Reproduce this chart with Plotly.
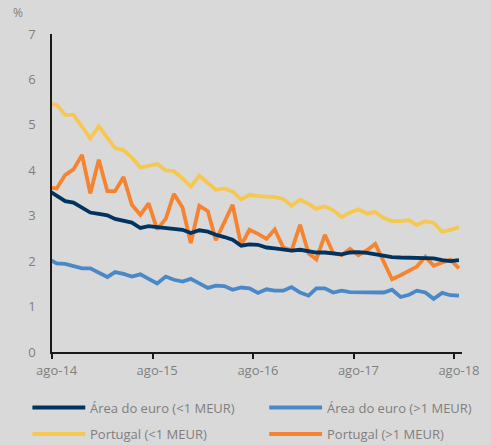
import pandas as pd
import plotly.graph_objects as go

# monthly observations, jul-14 .. ago-18 (first value only partly visible at the axis)
months = pd.date_range("2014-07-01", "2018-08-01", freq="MS")

euro_small = [3.56, 3.45, 3.32, 3.29, 3.18, 3.07, 3.04, 3.01, 2.93, 2.89, 2.85, 2.73, 2.77, 2.75,
              2.73, 2.73, 2.69, 2.62, 2.68, 2.65, 2.58, 2.53, 2.47, 2.34, 2.37, 2.36, 2.30,
              2.28, 2.26, 2.23, 2.25, 2.21, 2.19, 2.19, 2.17, 2.15, 2.19, 2.20, 2.18, 2.15,
              2.12, 2.09, 2.08, 2.08, 2.08, 2.07, 2.06, 2.02, 2.00, 2.02]
euro_large = [2.05, 1.95, 1.94, 1.88, 1.84, 1.84, 1.75, 1.65, 1.76, 1.72, 1.66, 1.71, 1.61, 1.51,
              1.66, 1.59, 1.55, 1.61, 1.51, 1.41, 1.46, 1.45, 1.37, 1.42, 1.40, 1.30, 1.38,
              1.35, 1.35, 1.43, 1.31, 1.24, 1.40, 1.40, 1.31, 1.35, 1.32, 1.32, 1.30, 1.31,
              1.31, 1.37, 1.21, 1.26, 1.35, 1.31, 1.17, 1.30, 1.25, 1.24]
pt_small = [5.47, 5.44, 5.22, 5.22, 4.96, 4.70, 4.97, 4.70, 4.49, 4.44, 4.28, 4.06, 4.09, 4.14,
            4.00, 3.98, 3.82, 3.64, 3.88, 3.72, 3.57, 3.60, 3.53, 3.36, 3.46, 3.43, 3.42,
            3.41, 3.37, 3.22, 3.35, 3.26, 3.15, 3.21, 3.12, 2.97, 3.07, 3.14, 3.05, 3.08,
            2.95, 2.88, 2.88, 2.90, 2.80, 2.88, 2.84, 2.65, 2.69, 2.75]
pt_large = [3.62, 3.60, 3.90, 4.02, 4.34, 3.49, 4.23, 3.54, 3.54, 3.85, 3.24, 3.02, 3.27, 2.70,
            2.93, 3.48, 3.18, 2.40, 3.22, 3.10, 2.46, 2.84, 3.24, 2.35, 2.69, 2.60, 2.49,
            2.70, 2.30, 2.24, 2.80, 2.17, 2.04, 2.58, 2.18, 2.13, 2.27, 2.13, 2.24, 2.38,
            2.00, 1.60, 1.69, 1.80, 1.88, 2.10, 1.90, 1.97, 2.03, 1.84]

series_names = ["Área do euro (<1 MEUR)", "Área do euro (>1 MEUR)",
                "Portugal (<1 MEUR)", "Portugal (>1 MEUR)"]
series_values = [euro_small, euro_large, pt_small, pt_large]
series_colors = ["#00335F", "#4A88C7", "#F6C851", "#F5832F"]

tick_dates = ["2014-08-01", "2015-08-01", "2016-08-01", "2017-08-01", "2018-08-01"]
tick_labels = ["ago-14", "ago-15", "ago-16", "ago-17", "ago-18"]
y_ticks = [0, 1, 2, 3, 4, 5, 6, 7]

# points are drawn mid-month
x_dates = months + pd.Timedelta(days=17)
label_dates = pd.to_datetime(tick_dates) + pd.Timedelta(days=17)

W, H = 491, 445
L, R, T, B = 52, 20, 34, 93
PW, PH = W - L - R, H - T - B
GRAY = "#7F7F7F"
FONT = "Open Sans"

def px(x):
    return (x - L) / PW

def py(y):
    return (H - B - y) / PH

fig = go.Figure()
for i in [2, 3, 1, 0]:
    fig.add_trace(go.Scatter(x=x_dates, y=series_values[i], mode="lines",
                             name=series_names[i],
                             line=dict(color=series_colors[i], width=3.8),
                             showlegend=False))

# manual legend (two columns)
leg_pos = [(32, 407.5), (274, 407.5), (32, 434), (274, 434)]
shapes = []
annotations = []
for (lx, ly), name, col in zip(leg_pos, series_names, series_colors):
    shapes.append(dict(type="line", xref="paper", yref="paper",
                       x0=px(lx), x1=px(lx + 54), y0=py(ly), y1=py(ly),
                       line=dict(color=col, width=4)))
    annotations.append(dict(xref="paper", yref="paper", x=px(lx + 57), y=py(ly),
                            text=name, showarrow=False, xanchor="left", yanchor="middle",
                            font=dict(family=FONT, size=13, color=GRAY)))
annotations.append(dict(xref="paper", yref="paper", x=px(10), y=py(13), text="%",
                        showarrow=False, xanchor="left", yanchor="middle",
                        font=dict(family=FONT, size=12, color=GRAY)))

fig.update_layout(
    width=W, height=H,
    margin=dict(l=L, r=R, t=T, b=B),
    paper_bgcolor="#D9D9D9", plot_bgcolor="#D9D9D9",
    shapes=shapes, annotations=annotations,
    font=dict(family=FONT, size=13, color=GRAY),
    xaxis=dict(type="date", range=["2014-08-01", "2018-08-29"],
               tickmode="array", tickvals=label_dates, ticktext=tick_labels,
               ticks="", showgrid=False, zeroline=False,
               showline=True, linecolor="#1A1A1A", linewidth=2,
               ticklabelstandoff=5,
               tickfont=dict(family=FONT, size=13, color=GRAY),
               minor=dict(tickmode="array", tickvals=tick_dates, ticks="outside",
                          ticklen=5, tickwidth=2, tickcolor="#1A1A1A", showgrid=False)),
    yaxis=dict(range=[0, 7], tickmode="array", tickvals=y_ticks,
               ticks="", showgrid=False, zeroline=False,
               showline=True, linecolor="#1A1A1A", linewidth=1.5,
               ticklabelstandoff=12,
               tickfont=dict(family=FONT, size=13, color=GRAY)),
)

fig.write_html("out.html", config={"displayModeBar": False},
               post_script="document.body.style.margin='0';document.body.style.background='#D9D9D9';")
